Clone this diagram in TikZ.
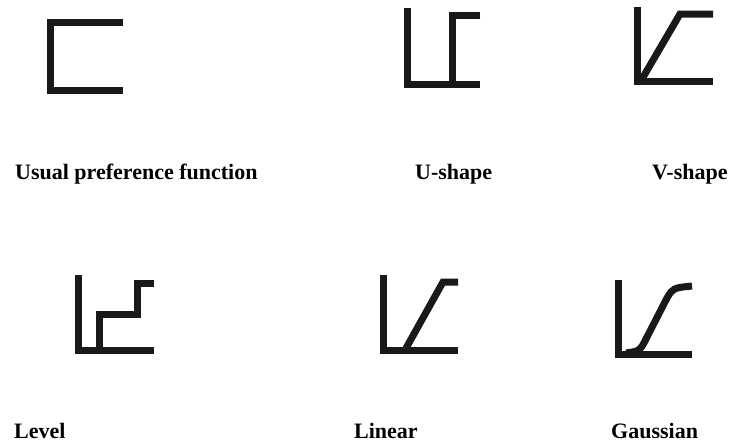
\documentclass[tikz,border=0pt]{standalone}
\usepackage{fontspec}
\setmainfont{Liberation Serif}
\usetikzlibrary{positioning}

\begin{document}
\begin{tikzpicture}[x=1pt, y=-1pt,
    fn/.style={line width=7pt, line join=miter, draw=black!90},
    lab/.style={font=\bfseries\fontsize{22}{26}\selectfont, anchor=base west, inner sep=0pt}]
    \useasboundingbox (0,0) rectangle (731,445);
    % usual preference function
    \draw[fn] (123,22) -| (50,90) -- (123,90);
    % U-shape
    \draw[fn] (407,8) -- (407,84) -- (480,84);
    \draw[fn] (480,15) -- (452,15) -- (452,84);
    % V-shape
    \draw[fn] (637,7) -- (637,81) -- (713,81);
    \draw[fn] (642,79) -- (680,14) -- (713,14);
    % level
    \draw[fn] (78,275) -- (78,350) -- (154,350);
    \draw[fn] (99,350) |- (137,314) |- (154,283);
    % linear
    \draw[fn] (383,275) -- (383,350) -- (458,350);
    \draw[fn] (405,350) -- (443,282) -- (458,282);
    % gaussian
    \draw[fn] (618,280) -- (618,354) -- (692,354);
    \draw[fn] (626,353) .. controls (640,351) .. (647,337) -- (667,298)
      .. controls (673,288) .. (692,286);
    % labels
    \foreach \x/\y/\t/\n in {15/179/{Usual preference function}/usual,
        415/179/U-shape/ushape, 652/179/V-shape/vshape,
        14/438/Level/level, 354/438/Linear/linear, 611/438/Gaussian/gauss} {
      \node[lab] (l\n) at (\x,\y) {\t};
    }
\end{tikzpicture}
\end{document}
